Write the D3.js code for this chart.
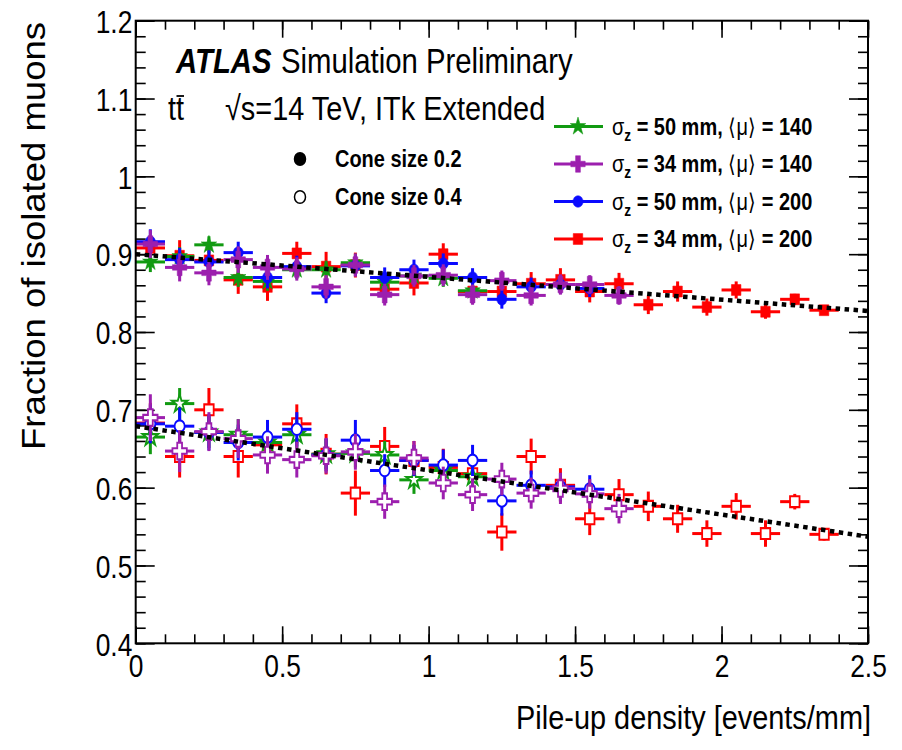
<!DOCTYPE html>
<html lang="en">
<head>
    <meta charset="UTF-8">
    <title>Isolated muons vs pile-up density</title>
    <script src="https://cdn.jsdelivr.net/npm/d3@7/dist/d3.min.js"></script>
    <style>
        body{margin:0;background:#fff}
        text{font-family:"Liberation Sans",Arial,Helvetica,sans-serif;fill:#000}
    </style>
</head>
<body>
<div class="chart"></div>
<script>
    //data
    const binCenters=[0.05,0.15,0.25,0.35,0.45,0.55,0.65,0.75,0.85,0.95,1.05,1.15,
        1.25,1.35,1.45,1.55,1.65,1.75,1.85,1.95,2.05,2.15,2.25,2.35]
    const binHalfWidth=0.05

    // sigma_z = 50 mm, <mu> = 140
    const green02=[0.890,0.897,0.912,0.870,0.865,0.880,0.880,0.889,0.864,0.872,0.869,0.853]
    const green02Err=[0.013,0.012,0.011,0.012,0.012,0.012,0.011,0.011,0.011,0.011,0.011,0.010]
    const green04=[0.665,0.708,0.671,0.668,0.658,0.668,0.643,0.644,0.642,0.610,0.622,0.614]
    const green04Err=[0.022,0.020,0.020,0.020,0.019,0.019,0.019,0.018,0.018,0.018,0.017,0.017]
    // sigma_z = 34 mm, <mu> = 140
    const purple02=[0.913,0.883,0.876,0.893,0.883,0.881,0.858,0.886,0.848,0.872,0.873,0.848,0.866,0.847,0.861,0.861,0.847]
    const purple02Err=[0.018,0.018,0.016,0.017,0.016,0.015,0.015,0.015,0.014,0.014,0.014,0.013,0.013,0.013,0.013,0.012,0.012]
    const purple04=[0.690,0.647,0.672,0.663,0.642,0.636,0.641,0.646,0.582,0.638,0.606,0.591,0.611,0.593,0.599,0.592,0.573]
    const purple04Err=[0.030,0.027,0.025,0.025,0.024,0.023,0.023,0.023,0.022,0.022,0.021,0.021,0.021,0.020,0.020,0.019,0.019]
    // sigma_z = 50 mm, <mu> = 200
    const blue02=[0.916,0.893,0.890,0.902,0.870,0.884,0.850,0.885,0.870,0.880,0.888,0.870,0.842,0.858,0.861,0.856]
    const blue02Err=[0.016,0.015,0.015,0.014,0.014,0.014,0.013,0.013,0.013,0.013,0.013,0.012,0.012,0.012,0.012,0.011]
    const blue04=[0.682,0.679,0.671,0.658,0.665,0.675,0.642,0.661,0.622,0.635,0.629,0.635,0.583,0.603,0.601,0.598]
    const blue04Err=[0.025,0.024,0.023,0.023,0.022,0.022,0.021,0.026,0.021,0.020,0.020,0.020,0.019,0.019,0.018,0.018]
    // sigma_z = 34 mm, <mu> = 200
    const red02=[0.908,0.898,0.892,0.867,0.858,0.901,0.884,0.886,0.855,0.863,0.900,0.852,
        0.852,0.862,0.867,0.852,0.862,0.835,0.852,0.832,0.854,0.826,0.842,0.828]
    const red02Err=[0.016,0.020,0.016,0.018,0.018,0.015,0.019,0.016,0.016,0.016,0.014,0.015,
        0.015,0.015,0.015,0.014,0.014,0.012,0.013,0.011,0.011,0.009,0.007,0.006]
    const red04=[0.683,0.640,0.700,0.640,0.655,0.682,0.643,0.593,0.653,0.635,0.626,0.618,
        0.543,0.640,0.603,0.560,0.591,0.576,0.560,0.541,0.576,0.541,0.582,0.540]
    const red04Err=[0.026,0.027,0.028,0.027,0.026,0.025,0.026,0.029,0.025,0.025,0.024,0.024,
        0.024,0.023,0.022,0.021,0.020,0.019,0.018,0.017,0.017,0.017,0.010,0.008]

    // straight-line fits (dotted)
    const fitX=[0,2.5]
    const fitUpper=[0.900,0.827]
    const fitLower=[0.679,0.537]

    const sigmaZ=[50,34,50,34]
    const muValues=[140,140,200,200]
    const seriesColors=['#119a11','#9c1fae','#0a0aff','#ff0000']
    const seriesShapes=['star','cross','circle','square']
    const cone02=[green02,purple02,blue02,red02]
    const cone02Err=[green02Err,purple02Err,blue02Err,red02Err]
    const cone04=[green04,purple04,blue04,red04]
    const cone04Err=[green04Err,purple04Err,blue04Err,red04Err]

    const xMajor=[0,0.5,1,1.5,2,2.5]
    const yMajor=[0.4,0.5,0.6,0.7,0.8,0.9,1.0,1.1,1.2]

    //init
    const W=902,H=750
    const SX=0.85   // glyphs of the reference are narrow
    const pLeft=135.7,pRight=868,pTop=20.7,pBottom=643.3
    const svg=d3.select('.chart').append('svg').attr('width',W).attr('height',H)
    svg.append('rect').attr('width',W).attr('height',H).attr('fill','#fff')

    const x=d3.scaleLinear().domain([0,2.5]).range([pLeft,pRight])
    const y=d3.scaleLinear().domain([0.4,1.2]).range([pBottom,pTop])

    function label(g,px,py,str,size,opts){
        opts=opts||{}
        const t=g.append('text')
            .attr('transform','translate('+px+','+py+') scale('+SX+',1)')
            .attr('font-size',size)
            .attr('text-anchor',opts.anchor||'start')
            .attr('font-weight',opts.weight||'normal')
            .attr('font-style',opts.style||'normal')
        if(str!==null) t.text(str)
        return t
    }

    const symbolType={star:d3.symbolStar,cross:d3.symbolCross,circle:d3.symbolCircle,square:d3.symbolSquare}
    const symbolSize={star:75,cross:115,circle:80,square:90}
    function marker(g,shape,filled,color,px,py){
        g.append('path')
            .attr('d',d3.symbol().type(symbolType[shape]).size(symbolSize[shape])())
            .attr('transform','translate('+px+','+py+') scale(1,1.15)')
            .attr('fill',filled?color:'#fff')
            .attr('stroke',color)
            .attr('stroke-width',filled?0.5:1.8)
    }

    //axes (ROOT style: inward ticks on all four sides)
    const xMinor=d3.range(0,2.5001,0.1)
    const yMinor=d3.range(0.4,1.2001,0.02)
    const axG=svg.append('g')
    function axisPart(axis,tr){
        const a=axG.append('g').attr('transform',tr).call(axis)
        a.select('.domain').remove()
        a.selectAll('line').attr('stroke','#000').attr('stroke-width',1.6)
        return a
    }
    axisPart(d3.axisBottom(x).tickValues(xMinor).tickSize(-9).tickFormat(''),'translate(0,'+pBottom+')')
    axisPart(d3.axisTop(x).tickValues(xMinor).tickSize(-9).tickFormat(''),'translate(0,'+pTop+')')
    axisPart(d3.axisTop(x).tickValues(xMajor).tickSize(-17).tickFormat(''),'translate(0,'+pTop+')')
    axisPart(d3.axisLeft(y).tickValues(yMinor).tickSize(-10).tickFormat(''),'translate('+pLeft+',0)')
    axisPart(d3.axisRight(y).tickValues(yMinor).tickSize(-10).tickFormat(''),'translate('+pRight+',0)')
    axisPart(d3.axisRight(y).tickValues(yMajor).tickSize(-19).tickFormat(''),'translate('+pRight+',0)')
    const xAx=axisPart(d3.axisBottom(x).tickValues(xMajor).tickSize(-17).tickPadding(12).tickFormat(d3.format('~g')),'translate(0,'+pBottom+')')
    xAx.selectAll('text').attr('font-size',31).attr('transform','scale('+SX+',1)')
    const yAx=axisPart(d3.axisLeft(y).tickValues(yMajor).tickSize(-19).tickPadding(4).tickFormat(d3.format('~g')),'translate('+pLeft+',0)')
    yAx.selectAll('text').attr('font-size',31).attr('dy','0.38em').attr('transform','scale('+SX+',1)')

    //data points
    const plot=svg.append('g')
    const drawOrder=[3,0,2,1]
    function drawSet(values,errs,k,filled){
        const g=plot.append('g')
        const col=seriesColors[k]
        values.forEach((v,i)=>{
            const cx=binCenters[i]
            g.append('line').attr('x1',x(cx-binHalfWidth)).attr('x2',x(cx+binHalfWidth))
                .attr('y1',y(v)).attr('y2',y(v)).attr('stroke',col).attr('stroke-width',3)
            g.append('line').attr('x1',x(cx)).attr('x2',x(cx))
                .attr('y1',y(v-errs[i])).attr('y2',y(v+errs[i])).attr('stroke',col).attr('stroke-width',3)
            marker(g,seriesShapes[k],filled,col,x(cx),y(v))
        })
    }
    drawOrder.forEach(k=>drawSet(cone04[k],cone04Err[k],k,false))
    drawOrder.forEach(k=>drawSet(cone02[k],cone02Err[k],k,true))

    //fits
    const fitLine=d3.line().x(d=>x(d[0])).y(d=>y(d[1]))
    ;[fitUpper,fitLower].forEach(f=>{
        svg.append('path').attr('d',fitLine(fitX.map((fx,i)=>[fx,f[i]])))
            .attr('fill','none').attr('stroke','#000').attr('stroke-width',4.5).attr('stroke-dasharray','4.5,4.5')
    })

    //frame
    svg.append('rect').attr('x',pLeft).attr('y',pTop).attr('width',pRight-pLeft).attr('height',pBottom-pTop)
        .attr('fill','none').attr('stroke','#000').attr('stroke-width',2)

    //titles
    label(svg,871,729,'Pile-up density [events/mm]',34,{anchor:'end'})
    svg.append('text').attr('transform','translate(45,22) rotate(-90) scale(1,0.9)')
        .attr('font-size',36.5).attr('text-anchor','end').text('Fraction of isolated muons')

    //ATLAS label
    label(svg,176,73,'ATLAS',34.5,{weight:'bold',style:'italic'})
    label(svg,281,73,'Simulation Preliminary',34.5)
    label(svg,168,120,'tt',34)
    svg.append('line').attr('x1',176.5).attr('x2',184).attr('y1',96).attr('y2',96)
        .attr('stroke','#000').attr('stroke-width',1.8)
    label(svg,225,120,'\u221As=14 TeV, ITk Extended',34)

    //cone size legend
    const coneLabels=['Cone size 0.2','Cone size 0.4']
    coneLabels.forEach((c,i)=>{
        const cy=159+i*38
        svg.append('ellipse').attr('cx',300).attr('cy',cy).attr('rx',5.5).attr('ry',6.3)
            .attr('fill',i===0?'#000':'#fff').attr('stroke','#000').attr('stroke-width',1.5)
        label(svg,335,cy+8,c,23.5,{weight:'bold'})
    })

    //series legend
    const legG=svg.append('g')
    sigmaZ.forEach((s,k)=>{
        const ly=126.5+k*37.5
        legG.append('line').attr('x1',554).attr('x2',603).attr('y1',ly).attr('y2',ly)
            .attr('stroke',seriesColors[k]).attr('stroke-width',3)
        marker(legG,seriesShapes[k],true,seriesColors[k],578,ly)
        const t=label(legG,612,ly+8,null,23.5,{weight:'bold'})
        t.append('tspan').attr('font-weight','normal').text('\u03C3')
        t.append('tspan').attr('font-size',16).attr('dy',6).text('z')
        t.append('tspan').attr('dy',-6).text(' = '+s+' mm, ')
        t.append('tspan').attr('font-weight','normal').text('\u27E8\u03BC\u27E9')
        t.append('tspan').text(' = '+muValues[k])
    })
</script>
</body>
</html>
